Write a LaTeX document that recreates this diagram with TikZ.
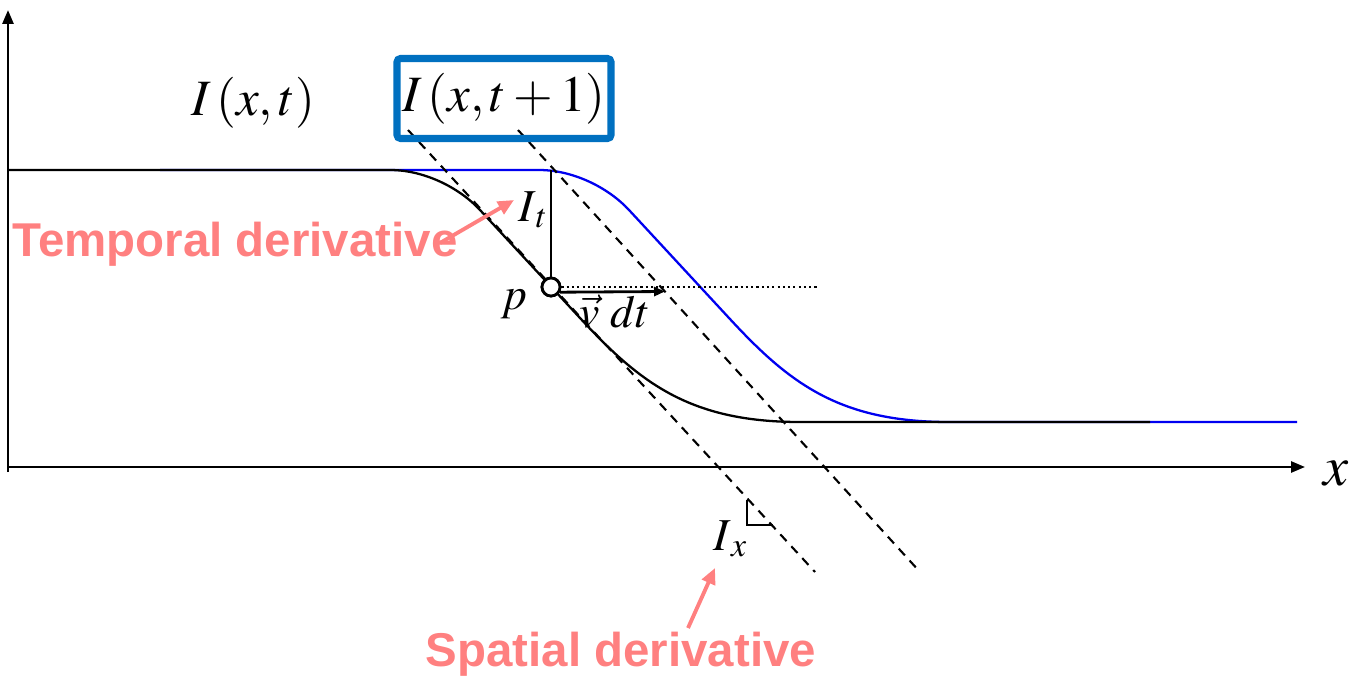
\documentclass[tikz,border=0pt]{standalone}
\usepackage{mathptmx}
\usepackage{fontspec}
\newfontfamily\labfont{Liberation Sans}
\usetikzlibrary{positioning, arrows.meta, calc}
\definecolor{boxblue}{RGB}{0,112,192}
\definecolor{salmon}{RGB}{255,128,128}
\definecolor{curveblue}{RGB}{0,0,240}

\begin{document}
\begin{tikzpicture}[
  axis/.style={line width=0.75pt, -{Triangle[length=0.14cm, width=0.11cm]}},
  curve/.style={line width=0.65pt},
  edge/.style={insert path={.. controls (4.25,-1.70) and (4.6,-1.883) .. (4.8,-2.10)
                -- (5.8,-3.18) .. controls (6.4,-3.83) and (6.9,-4.22) .. (8.0,-4.22)}},
  tang/.style={line width=0.6pt, dash pattern=on 2.6pt off 2pt},
  mlab/.style={inner sep=1pt, font=\fontsize{14.5}{17}\selectfont},
  slab/.style={inner sep=1pt, font=\fontsize{13}{15}\selectfont},
  redlab/.style={inner sep=0pt, text=salmon, font=\labfont\bfseries\fontsize{13.5}{16}\selectfont},
  redarr/.style={draw=salmon, line width=1.1pt, -{Triangle[length=0.16cm, width=0.14cm]}},
  tbox/.style={draw=boxblue, line width=2pt, rounded corners=1pt, minimum width=2.14cm,
               minimum height=0.8cm, inner sep=0pt, font=\fontsize{14.5}{17}\selectfont},
  pt/.style={circle, draw, fill=white, line width=0.8pt, minimum size=0.18cm, inner sep=0pt},
]
\useasboundingbox (0,0) rectangle (13.55,-6.76);

% ---------- Axes ----------
\coordinate (ybot) at (0.08,-4.72);
\coordinate (ytop) at (0.08,-0.10);
\coordinate (O) at (0.08,-4.67);
\coordinate (xend) at (13.05,-4.67);
\draw[axis] (ybot) -- (ytop);
\draw[axis] (O) -- (xend);
\node[font=\fontsize{16}{18}\selectfont] (xlab) at (13.36,-4.74) {$x$};

% ---------- Intensity profiles ----------
\begin{scope}[xshift=1.49cm]
\draw[curve, curveblue] (0.11,-1.70) -- (3.9,-1.70) [edge] -- (11.48,-4.22);
\end{scope}
\draw[curve] (0.08,-1.70) -- (3.9,-1.70) [edge] -- (11.5,-4.22);

% ---------- Tangent lines ----------
\coordinate (d1a) at (4.08,-1.30);
\coordinate (d1b) at (8.15,-5.72);
\coordinate (d2a) at (5.18,-1.30);
\coordinate (d2b) at (9.20,-5.72);
\draw[tang] (d1a) -- (d1b);
\draw[tang] (d2a) -- (d2b);

% right angle mark
\coordinate (ra1) at (7.47,-5.00);
\coordinate (ra2) at (7.47,-5.25);
\coordinate (ra3) at (7.73,-5.25);
\draw[line width=0.7pt] (ra1) -- (ra2) -- (ra3);

% ---------- Point p and derivatives ----------
\coordinate (top) at (5.51,-1.70);
\coordinate (vtip) at (6.65,-2.915);
\coordinate (hend) at (8.18,-2.87);
\node[pt] (p) at (5.51,-2.87) {};
\draw[line width=0.7pt] (top) -- (p);
\draw[line width=0.6pt, dash pattern=on 0.6pt off 0.9pt] (p.east) -- (hend);
\draw[line width=0.8pt, -{Triangle[length=0.11cm, width=0.09cm]}] (p.-30) -- (vtip);
\node[pt] at (p) {};

\node[slab] (plab) at (5.14,-3.04) {$p$};
\node[slab] (vdt) at (6.15,-3.12) {$\vec{v}\;dt$};
\node[slab, anchor=base west] (It) at (5.14,-2.21) {$I_{\,t}$};
\node[slab, anchor=base west] (Ix) at (7.09,-5.50) {$I_{\,x}$};

% ---------- Curve labels ----------
\node[mlab] (Ixt) at (2.53,-1.03) {$I\,(x,t)$};
\node[tbox] (Ixt1) at (5.04,-0.985) {$I\,(x,t+1)$};

% ---------- Red annotations ----------
\node[redlab, anchor=base west] (tlab) at (0.12,-2.57) {Temporal derivative};
\node[redlab, anchor=base west] (slab2) at (4.25,-6.66) {Spatial derivative};
\coordinate (ttail) at (4.40,-2.43);
\coordinate (ttip) at (5.14,-2.00);
\coordinate (stail) at (6.88,-6.28);
\coordinate (stip) at (7.15,-5.68);
\draw[redarr] (ttail) -- (ttip);
\draw[redarr] (stail) -- (stip);

\end{tikzpicture}
\end{document}
